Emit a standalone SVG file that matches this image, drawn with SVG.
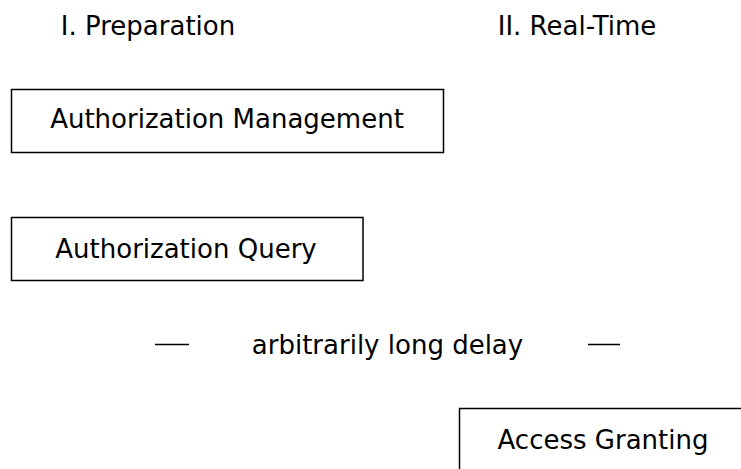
<svg xmlns="http://www.w3.org/2000/svg" width="741" height="469" viewBox="0 0 741 469">
  <style>
    .box { fill: #ffffff; stroke: #000000; stroke-width: 1.5; }
    .lbl { font-family: "DejaVu Sans", sans-serif; font-size: 26px; fill: #000000; text-anchor: middle; }
    .rule { stroke: #000000; stroke-width: 1.5; }
  </style>
  <rect width="741" height="469" fill="#ffffff"/>

  <!-- phase headings -->
  <g id="phase-preparation">
    <text class="lbl" x="148" y="34.5">I. Preparation</text>
  </g>
  <g id="phase-realtime">
    <text class="lbl" x="577" y="34.5">II. Real-Time</text>
  </g>

  <!-- steps -->
  <g id="authorization-management">
    <rect class="box" x="11.5" y="89.5" width="432" height="63"/>
    <text class="lbl" x="227" y="128">Authorization Management</text>
  </g>
  <g id="authorization-query">
    <rect class="box" x="11.5" y="217.5" width="351.5" height="63"/>
    <text class="lbl" x="186" y="257.5">Authorization Query</text>
  </g>
  <g id="access-granting">
    <rect class="box" x="459.5" y="408.5" width="300" height="63"/>
    <text class="lbl" x="603" y="449">Access Granting</text>
  </g>

  <!-- delay separator -->
  <g id="connectors">
    <line class="rule" x1="155" y1="344.5" x2="189" y2="344.5"/>
    <line class="rule" x1="588" y1="344.5" x2="620" y2="344.5"/>
  </g>
  <g id="delay">
    <text class="lbl" x="387.5" y="353.5">arbitrarily long delay</text>
  </g>
</svg>
